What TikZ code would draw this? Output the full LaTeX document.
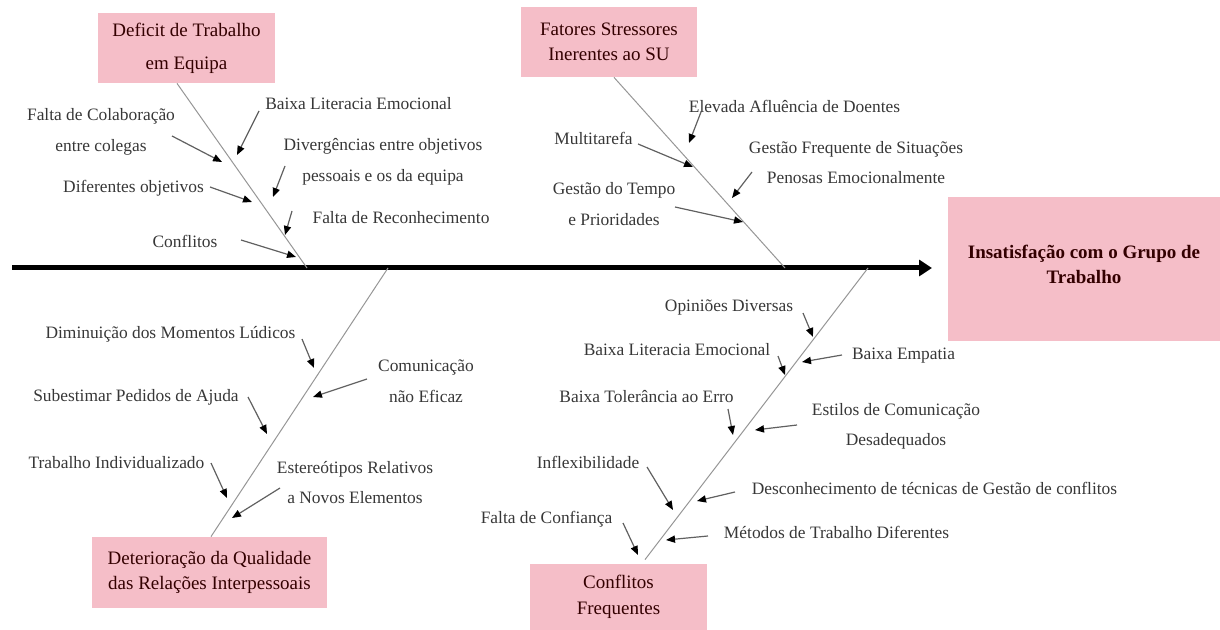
\documentclass[tikz,border=0pt]{standalone}
\usepackage{fontspec}
\setmainfont{Liberation Serif}
\usetikzlibrary{arrows.meta}
\definecolor{boxpink}{RGB}{245,190,200}
\definecolor{labelgray}{RGB}{55,55,55}
\definecolor{bonegray}{RGB}{150,150,150}

\begin{document}
\begin{tikzpicture}[x=0.5pt,y=-0.5pt,
			cause box/.style={rectangle,fill=boxpink,inner sep=0pt,align=center,text=black!80!red,font=\fontsize{9.5}{12.8}\selectfont},
			effect box/.style={rectangle,fill=boxpink,inner sep=0pt,align=center,text=black!80!red,font=\fontsize{9.5}{12.5}\selectfont\bfseries},
			label node/.style={inner sep=0pt,align=center,text=labelgray,font=\fontsize{8.7}{15.3}\selectfont},
			bone/.style={draw=bonegray,line width=0.5pt},
			cause arrow/.style={draw=gray!75!black,line width=0.6pt,-{Triangle[length=4.5pt,width=3.6pt,color=black]}},
			spine/.style={line width=2.5pt,-{Triangle[length=6.5pt,width=8pt]}}
			]
			
			\useasboundingbox (0,0) rectangle (1220,630);
			
			% boxes
			\node[cause box,minimum width=88.5pt,minimum height=35pt,font=\fontsize{9.5}{16.5}\selectfont] (team) at (186.5,48) {Deficit de Trabalho\\em Equipa};
			\node[cause box,minimum width=88pt,minimum height=35pt] (stress) at (609,42) {Fatores Stressores\\Inerentes ao SU};
			\node[cause box,minimum width=117.5pt,minimum height=35.5pt] (relations) at (209.5,572.5) {Deterioração da Qualidade\\das Relações Interpessoais};
			\node[cause box,minimum width=88.5pt,minimum height=33pt] (conflicts) at (618.5,597) {Conflitos\\Frequentes};
			\node[effect box,minimum width=136pt,minimum height=72pt,text depth=5pt] (effect) at (1084,269) {Insatisfação com o Grupo de\\Trabalho};
			
			% spine and bones
			\coordinate (tail) at (12,268);
			\coordinate (head) at (932,268);
			\draw[spine] (tail) -- (head);
			
			\coordinate (j1) at (307,268);
			\coordinate (j2) at (785,268);
			\coordinate (j3) at (388,268);
			\coordinate (j4) at (868,268);
			\draw[bone] ([xshift=-4.75pt]team.south) -- (j1);
			\draw[bone] ([xshift=2.5pt]stress.south) -- (j2);
			\draw[bone] ([xshift=0.75pt]relations.north) -- (j3);
			\draw[bone] ([xshift=13.25pt,yshift=2pt]conflicts.north) -- (j4);
			
			% Deficit de Trabalho em Equipa
			\node[label node] (t1) at (101,132) {Falta de Colaboração\\entre colegas};
			\node[label node] (t2) at (358.5,104) {Baixa Literacia Emocional};
			\node[label node] (t3) at (383,162) {Divergências entre objetivos\\pessoais e os da equipa};
			\node[label node] (t4) at (133.5,188) {Diferentes objetivos};
			\node[label node] (t5) at (401,218) {Falta de Reconhecimento};
			\node[label node] (t6) at (185,241) {Conflitos};
			
			% Fatores Stressores
			\node[label node] (s1) at (794.5,106) {Elevada Afluência de Doentes};
			\node[label node] (s2) at (593.5,138) {Multitarefa};
			\node[label node] (s3) at (856,162.5) {Gestão Frequente de Situações\\Penosas Emocionalmente};
			\node[label node] (s4) at (614,204) {Gestão do Tempo\\e Prioridades};
			
			% Deterioracao das Relacoes
			\node[label node] (r1) at (170.5,334) {Diminuição dos Momentos Lúdicos};
			\node[label node] (r2) at (426,381) {Comunicação\\não Eficaz};
			\node[label node] (r3) at (136,397) {Subestimar Pedidos de Ajuda};
			\node[label node] (r4) at (116.5,463) {Trabalho Individualizado};
			\node[label node] (r5) at (355,482.5) {Estereótipos Relativos\\a Novos Elementos};
			
			% Conflitos Frequentes
			\node[label node] (c1) at (729,307) {Opiniões Diversas};
			\node[label node] (c2) at (903.5,356) {Baixa Empatia};
			\node[label node] (c3) at (677,350) {Baixa Literacia Emocional};
			\node[label node] (c4) at (646.5,397) {Baixa Tolerância ao Erro};
			\node[label node] (c5) at (896,426.5) {Estilos de Comunicação\\Desadequados};
			\node[label node] (c6) at (588,462) {Inflexibilidade};
			\node[label node] (c7) at (934.5,488) {Desconhecimento de técnicas de Gestão de conflitos};
			\node[label node] (c8) at (546.5,519) {Falta de Confiança};
			\node[label node] (c9) at (836.5,532) {Métodos de Trabalho Diferentes};
			
			% arrow ends
			\coordinate (t1a) at (172,136); \coordinate (t1b) at (222,162);
			\coordinate (t2a) at (259,111); \coordinate (t2b) at (237,155);
			\coordinate (t3a) at (285,166); \coordinate (t3b) at (273,197);
			\coordinate (t4a) at (210,187); \coordinate (t4b) at (252,202);
			\coordinate (t5a) at (292,211); \coordinate (t5b) at (285,235);
			\coordinate (t6a) at (241,240); \coordinate (t6b) at (296,257);
			
			\coordinate (s1a) at (701,112); \coordinate (s1b) at (689,143);
			\coordinate (s2a) at (638,144); \coordinate (s2b) at (693,167);
			\coordinate (s3a) at (752,172); \coordinate (s3b) at (732,198);
			\coordinate (s4a) at (675,207); \coordinate (s4b) at (743,222);
			
			\coordinate (r1a) at (302,339); \coordinate (r1b) at (314,368);
			\coordinate (r2a) at (367,379); \coordinate (r2b) at (313,397);
			\coordinate (r3a) at (248,397); \coordinate (r3b) at (267,434);
			\coordinate (r4a) at (211,463); \coordinate (r4b) at (227,498);
			\coordinate (r5a) at (280,488); \coordinate (r5b) at (232,518);
			
			\coordinate (c1a) at (803,313); \coordinate (c1b) at (813,337);
			\coordinate (c2a) at (842,355); \coordinate (c2b) at (802,362);
			\coordinate (c3a) at (778,356); \coordinate (c3b) at (785,375);
			\coordinate (c4a) at (728,409); \coordinate (c4b) at (733,435);
			\coordinate (c5a) at (797,425); \coordinate (c5b) at (755,430);
			\coordinate (c6a) at (647,467); \coordinate (c6b) at (673,510);
			\coordinate (c7a) at (735,492); \coordinate (c7b) at (697,501);
			\coordinate (c8a) at (623,523); \coordinate (c8b) at (638,555);
			\coordinate (c9a) at (708,536); \coordinate (c9b) at (666,540);
			
			\foreach \s in {t1,t2,t3,t4,t5,t6,s1,s2,s3,s4,r1,r2,r3,r4,r5,c1,c2,c3,c4,c5,c6,c7,c8,c9} {
				\draw[cause arrow] (\s a) -- (\s b);
			}
\end{tikzpicture}
\end{document}
